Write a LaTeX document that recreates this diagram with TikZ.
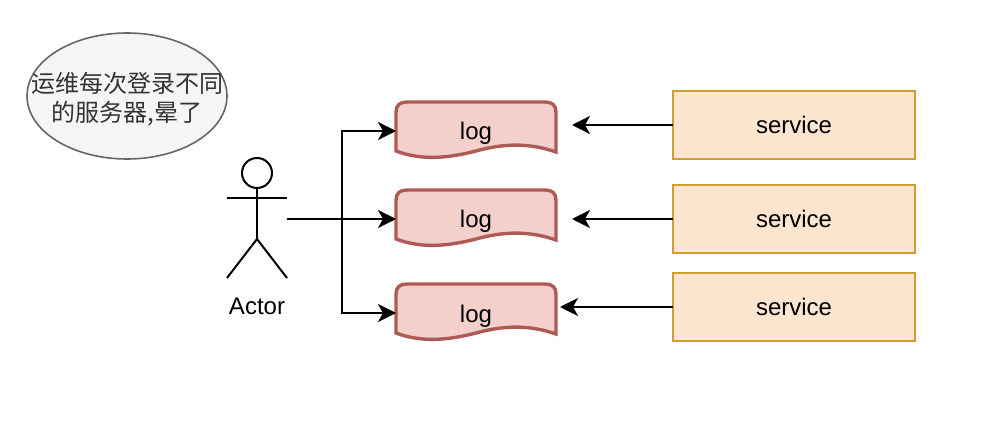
\documentclass[tikz,border=0pt]{standalone}
\usepackage{fontspec}
\setmainfont{Liberation Sans}
\newfontfamily\cjk{Noto Sans CJK SC}
\usetikzlibrary{arrows.meta,shapes.geometric}
\definecolor{logfill}{HTML}{F4D0CD}
\definecolor{logline}{HTML}{AE5A55}
\definecolor{svcfill}{HTML}{FCE6CF}
\definecolor{svcline}{HTML}{D39C34}
\definecolor{ellfill}{HTML}{F5F5F5}
\definecolor{ellline}{HTML}{666666}
\tikzset{
  x=1pt,y=-1pt,
  every node/.style={font=\fontsize{24}{29}\selectfont,inner sep=0pt,outer sep=0pt},
  svc/.style={draw=svcline,fill=svcfill,line width=1.7pt,minimum width=242pt,minimum height=68pt,text height=18pt,text depth=0pt},
  logbox/.style={minimum width=160pt,minimum height=58pt,text height=18pt,text depth=0pt},
  logshape/.style={draw=logline,fill=logfill,line width=3.4pt,line join=miter},
  stick/.style={draw=black,line width=2pt},
  conn/.style={draw=black,line width=2pt,-{Stealth[length=18pt,width=18pt,inset=5pt]}},
}
\newcommand{\logdoc}[2]{%
  \path[logshape] (396,#2+10) .. controls (396,#2+3) and (400,#2) .. (407,#2) -- (545,#2)
    .. controls (552,#2) and (556,#2+3) .. (556,#2+10) -- (556,#2+50)
    .. controls (530,#2+41) and (505,#2+41) .. (476,#2+49)
    .. controls (445,#2+57) and (420,#2+58) .. (396,#2+49) -- cycle;
  \node[logbox] (#1) at (476,#2+29) {log};
}
\begin{document}
\begin{tikzpicture}
\useasboundingbox (0,0) rectangle (982,430);
\fill[white] (0,0) rectangle (982,430);

\node[draw=ellline,fill=ellfill,line width=1.6pt,ellipse,minimum width=200pt,minimum height=126pt] (note) at (127,96) {};
\node[align=center,font=\cjk\fontsize{24}{29}\selectfont,text=black!80] (notetext) at (127,99.5) {运维每次登录不同\\的服务器,晕了};

\node[minimum width=60pt,minimum height=120pt] (actor) at (257,219) {};
\draw[stick] (257,173) circle (15);
\draw[stick] (227,198.5) -- (287,198.5);
\draw[stick] (257,188) -- (257,239);
\draw[stick] (227,278) -- (257,239) -- (287,278);
\node (actorlabel) at (257,306) {Actor};

\logdoc{l1}{102}
\logdoc{l2}{190}
\logdoc{l3}{284}

\node[svc] (s1) at (794,125) {service};
\node[svc] (s2) at (794,219) {service};
\node[svc] (s3) at (794,307) {service};

\coordinate (trunk) at (342,219);
\draw[conn] (actor.east) -- (trunk) |- (l1.west);
\draw[conn] (actor.east) -- (l2.west);
\draw[conn] (trunk) |- (l3.west);

\draw[conn,shorten >=16pt] (s1.west) -- (l1.east |- s1.west);
\draw[conn,shorten >=16pt] (s2.west) -- (l2.east |- s2.west);
\draw[conn,shorten >=4pt] (s3.west) -- (l3.east |- s3.west);
\end{tikzpicture}
\end{document}
